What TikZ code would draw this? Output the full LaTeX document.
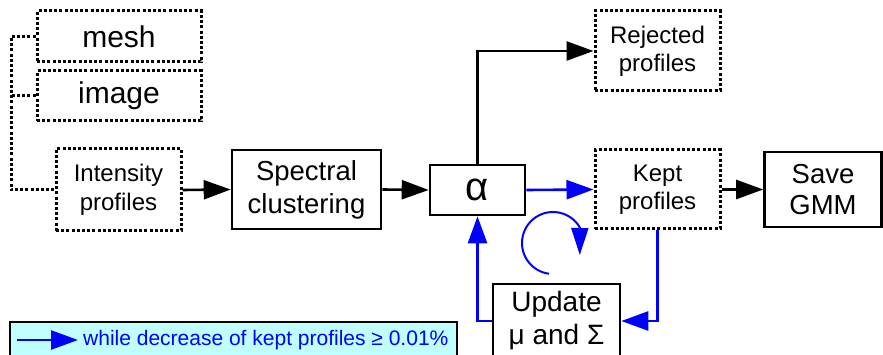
\documentclass[tikz,border=0pt]{standalone}
\usepackage{fontspec}
\setmainfont{Liberation Sans}
\usetikzlibrary{arrows.meta,calc}
\definecolor{legfill}{RGB}{191,255,255}
\begin{document}
\begin{tikzpicture}[x=1pt,y=1pt,
  fs/.style 2 args={font=\fontsize{#1}{#2}\selectfont},
  solidbox/.style={draw=black,line width=2.6pt,align=center,inner sep=0pt},
  dotbox/.style={draw=black,line width=3pt,dash pattern=on 3pt off 2.2pt,align=center,inner sep=0pt},
  conn/.style={line width=2.6pt,-{Triangle[length=27pt,width=19pt]}},
  dotline/.style={line width=3pt,dash pattern=on 3pt off 2.2pt},
  bl/.style={draw=blue,color=blue}
]
\useasboundingbox (0,0) rectangle (883,-355);
% boxes
\node[dotbox,fs={30}{34},minimum width=164,minimum height=51] (mesh) at (119,-36.5) {mesh};
\node[dotbox,fs={30}{34},minimum width=164,minimum height=50] (image) at (119,-96) {image};
\node[dotbox,fs={24}{29},minimum width=125,minimum height=82] (intens) at (118.5,-190) {Intensity\\profiles};
\node[solidbox,fs={27.5}{33},minimum width=149,minimum height=79] (spec) at (306.5,-189.5) {Spectral\\clustering};
\node[solidbox,fs={40}{46},minimum width=95,minimum height=50] (alpha) at (477.5,-190) {α};
\node[dotbox,fs={24}{28},minimum width=125,minimum height=80] (rej) at (657.5,-51) {Rejected\\profiles};
\node[dotbox,fs={24}{28},minimum width=125,minimum height=79] (kept) at (657.5,-189.5) {Kept\\profiles};
\node[solidbox,fs={27.5}{31},minimum width=117,minimum height=75] (save) at (823,-189.5) {Save\\GMM};
\node[solidbox,fs={28}{33},minimum width=127,minimum height=74] (upd) at (556.5,-321) {Update\\μ and Σ};
% left dotted connector
\coordinate (Ltop) at (11,-36.5);
\coordinate (Lbot) at (11,-190);
\draw[dotline] (mesh.west) -- (Ltop) -- (Lbot) -- (intens.west);
\draw[dotline] (image.west) -- (image.west -| Ltop);
% black connectors
\draw[conn] (intens.east) -- (spec.west);
\draw[conn] (spec.east) -- (alpha.west);
\draw[conn] (alpha.north) |- (rej.west);
\draw[conn] (kept.east) -- (save.west);
% blue connectors
\draw[conn,bl] (alpha.east) -- (kept.west);
\draw[conn,bl] (kept.south) |- (upd.east);
\draw[conn,bl] (upd.west) -| (alpha.south);
% circular arrow
\coordinate (cc) at (553,-243);
\draw[bl,line width=2pt,-{Triangle[length=27pt,width=17pt]}]
  ($(cc)+(262.6:31)$) arc[start angle=262.6,end angle=30,radius=31] -- ($(cc)+(26.8,-12)$);
% legend
\node[draw=black,line width=1.5pt,fill=legfill,minimum width=447,minimum height=36,inner sep=0pt] (legend) at (233.5,-340) {};
\node[anchor=west,fs={21}{24},text=blue,inner sep=0pt] (legtext) at (83,-340) {while decrease of kept profiles ≥ 0.01\%};
\coordinate (la) at (17,-340);
\coordinate (lb) at (78,-340);
\draw[conn,bl] (la) -- (lb);
\end{tikzpicture}
\end{document}
